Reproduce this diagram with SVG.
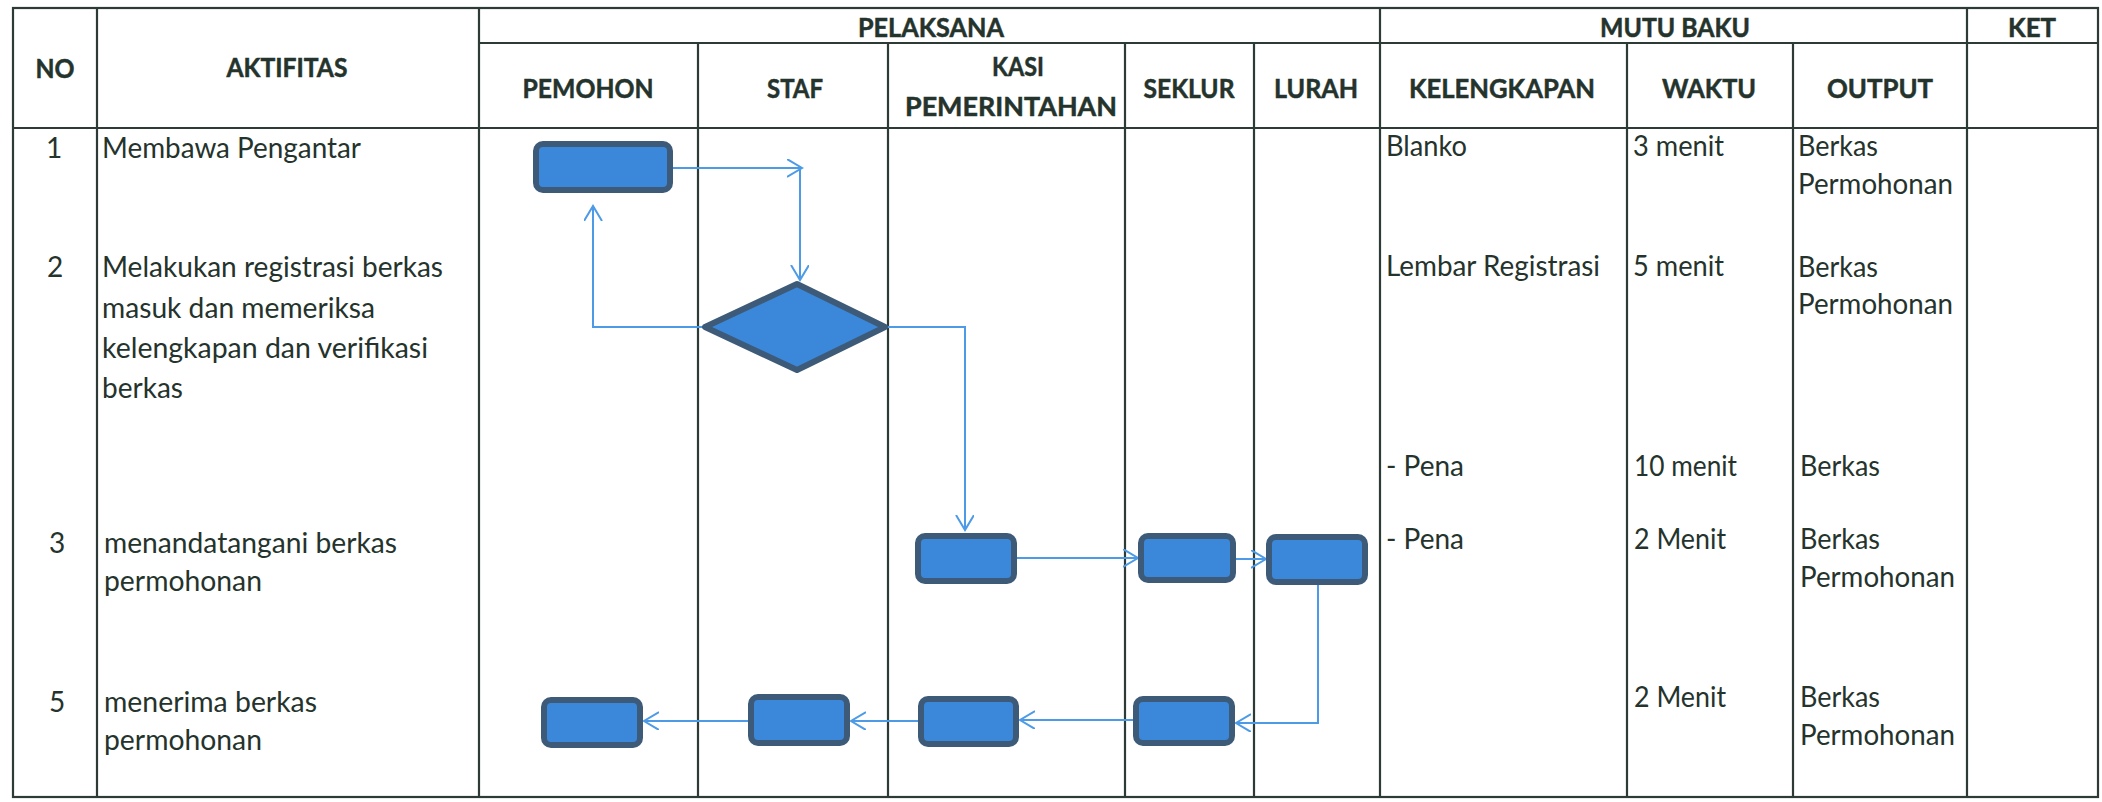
<svg xmlns="http://www.w3.org/2000/svg" width="2102" height="802" viewBox="0 0 2102 802">
<style>
.ln{stroke:#2e3a35;stroke-width:2.2;fill:none}
.h{font-family:Lato,"Liberation Sans",sans-serif;font-weight:bold;font-size:27px;fill:#25332d;stroke:#25332d;stroke-width:0.5;text-anchor:middle}
.t{font-family:Lato,"Liberation Sans",sans-serif;font-size:28px;fill:#25332d}
.c{text-anchor:middle}
.box{fill:#3b88da;stroke:#3d5b78;stroke-width:6}
.cn{stroke:#4d9be6;stroke-width:2;fill:none;marker-end:url(#ah)}
</style>
<defs>
<marker id="ah" markerUnits="userSpaceOnUse" markerWidth="20" markerHeight="20" refX="15" refY="9" orient="auto">
<path d="M0,0 L15,9 L0,18" fill="none" stroke="#4d9be6" stroke-width="2"/>
</marker>
</defs>
<rect width="2102" height="802" fill="#ffffff"/>
<g id="table">
<rect class="ln" x="13" y="8" width="2085" height="789"/>
<line class="ln" x1="479" y1="43" x2="2098" y2="43"/>
<line class="ln" x1="13" y1="128" x2="2098" y2="128"/>
<line class="ln" x1="97" y1="8" x2="97" y2="797"/>
<line class="ln" x1="479" y1="8" x2="479" y2="797"/>
<line class="ln" x1="698" y1="43" x2="698" y2="797"/>
<line class="ln" x1="888" y1="43" x2="888" y2="797"/>
<line class="ln" x1="1125" y1="43" x2="1125" y2="797"/>
<line class="ln" x1="1254" y1="43" x2="1254" y2="797"/>
<line class="ln" x1="1380" y1="8" x2="1380" y2="797"/>
<line class="ln" x1="1627" y1="43" x2="1627" y2="797"/>
<line class="ln" x1="1793" y1="43" x2="1793" y2="797"/>
<line class="ln" x1="1967" y1="8" x2="1967" y2="797"/>
</g>
<g id="headers">
<text class="h" x="55" y="78" textLength="39" lengthAdjust="spacingAndGlyphs">NO</text>
<text class="h" x="287" y="77" textLength="121" lengthAdjust="spacingAndGlyphs">AKTIFITAS</text>
<text class="h" x="931" y="37" textLength="146" lengthAdjust="spacingAndGlyphs">PELAKSANA</text>
<text class="h" x="1675" y="37" textLength="150" lengthAdjust="spacingAndGlyphs">MUTU BAKU</text>
<text class="h" x="2032" y="37" textLength="48" lengthAdjust="spacingAndGlyphs">KET</text>
<text class="h" x="588" y="98" textLength="131" lengthAdjust="spacingAndGlyphs">PEMOHON</text>
<text class="h" x="795" y="98" textLength="56" lengthAdjust="spacingAndGlyphs">STAF</text>
<text class="h" x="1018" y="76" textLength="52" lengthAdjust="spacingAndGlyphs">KASI</text>
<text class="h" x="1011" y="116" textLength="212" lengthAdjust="spacingAndGlyphs">PEMERINTAHAN</text>
<text class="h" x="1189" y="98" textLength="91" lengthAdjust="spacingAndGlyphs">SEKLUR</text>
<text class="h" x="1316" y="98" textLength="84" lengthAdjust="spacingAndGlyphs">LURAH</text>
<text class="h" x="1502" y="98" textLength="186" lengthAdjust="spacingAndGlyphs">KELENGKAPAN</text>
<text class="h" x="1709" y="98" textLength="94" lengthAdjust="spacingAndGlyphs">WAKTU</text>
<text class="h" x="1880" y="98" textLength="106" lengthAdjust="spacingAndGlyphs">OUTPUT</text>
</g>
<g id="rows">
<text class="t c" x="54" y="158">1</text>
<text class="t" x="102" y="158" textLength="259" lengthAdjust="spacingAndGlyphs">Membawa Pengantar</text>
<text class="t c" x="55" y="277">2</text>
<text class="t" x="102" y="277" textLength="341" lengthAdjust="spacingAndGlyphs">Melakukan registrasi berkas</text>
<text class="t" x="102" y="318" textLength="273" lengthAdjust="spacingAndGlyphs">masuk dan memeriksa</text>
<text class="t" x="102" y="358" textLength="326" lengthAdjust="spacingAndGlyphs">kelengkapan dan verifikasi</text>
<text class="t" x="102" y="398" textLength="81" lengthAdjust="spacingAndGlyphs">berkas</text>
<text class="t c" x="57" y="553">3</text>
<text class="t" x="104" y="553" textLength="293" lengthAdjust="spacingAndGlyphs">menandatangani berkas</text>
<text class="t" x="104" y="591" textLength="158" lengthAdjust="spacingAndGlyphs">permohonan</text>
<text class="t c" x="57" y="712">5</text>
<text class="t" x="104" y="712" textLength="213" lengthAdjust="spacingAndGlyphs">menerima berkas</text>
<text class="t" x="104" y="750" textLength="158" lengthAdjust="spacingAndGlyphs">permohonan</text>
<text class="t" x="1386" y="156" textLength="81" lengthAdjust="spacingAndGlyphs">Blanko</text>
<text class="t" x="1386" y="276" textLength="214" lengthAdjust="spacingAndGlyphs">Lembar Registrasi</text>
<text class="t" x="1386" y="476" textLength="78" lengthAdjust="spacingAndGlyphs">- Pena</text>
<text class="t" x="1386" y="549" textLength="78" lengthAdjust="spacingAndGlyphs">- Pena</text>
<text class="t" x="1633" y="156" textLength="91" lengthAdjust="spacingAndGlyphs">3 menit</text>
<text class="t" x="1633" y="276" textLength="91" lengthAdjust="spacingAndGlyphs">5 menit</text>
<text class="t" x="1634" y="476" textLength="103" lengthAdjust="spacingAndGlyphs">10 menit</text>
<text class="t" x="1634" y="549" textLength="92" lengthAdjust="spacingAndGlyphs">2 Menit</text>
<text class="t" x="1634" y="707" textLength="92" lengthAdjust="spacingAndGlyphs">2 Menit</text>
<text class="t" x="1798" y="156" textLength="80" lengthAdjust="spacingAndGlyphs">Berkas</text>
<text class="t" x="1798" y="194" textLength="155" lengthAdjust="spacingAndGlyphs">Permohonan</text>
<text class="t" x="1798" y="277" textLength="80" lengthAdjust="spacingAndGlyphs">Berkas</text>
<text class="t" x="1798" y="314" textLength="155" lengthAdjust="spacingAndGlyphs">Permohonan</text>
<text class="t" x="1800" y="476" textLength="80" lengthAdjust="spacingAndGlyphs">Berkas</text>
<text class="t" x="1800" y="549" textLength="80" lengthAdjust="spacingAndGlyphs">Berkas</text>
<text class="t" x="1800" y="587" textLength="155" lengthAdjust="spacingAndGlyphs">Permohonan</text>
<text class="t" x="1800" y="707" textLength="80" lengthAdjust="spacingAndGlyphs">Berkas</text>
<text class="t" x="1800" y="745" textLength="155" lengthAdjust="spacingAndGlyphs">Permohonan</text>
</g>
<g id="connectors">
<path class="cn" d="M673,168 L802,168"/>
<path class="cn" d="M800,168 L800,280"/>
<path class="cn" d="M704,327 L593,327 L593,206"/>
<path class="cn" d="M887,327 L965,327 L965,530"/>
<path class="cn" d="M1017,558 L1138,558"/>
<path class="cn" d="M1236,559 L1266,559"/>
<path class="cn" d="M1318,585 L1318,723 L1236,723"/>
<path class="cn" d="M1133,720 L1020,720"/>
<path class="cn" d="M918,721 L851,721"/>
<path class="cn" d="M748,721 L644,721"/>
</g>
<g id="n-pemohon-1"><rect class="box" x="536" y="144" width="134" height="46" rx="7"/></g>
<g id="n-staf-decision"><polygon class="box" points="705,327 797,284 885,327 797,370" stroke-linejoin="round"/></g>
<g id="n-kasi-3"><rect class="box" x="918" y="536" width="96" height="45" rx="7"/></g>
<g id="n-seklur-3"><rect class="box" x="1141" y="536" width="92" height="44" rx="7"/></g>
<g id="n-lurah-3"><rect class="box" x="1269" y="537" width="96" height="45" rx="7"/></g>
<g id="n-seklur-5"><rect class="box" x="1136" y="699" width="96" height="44" rx="7"/></g>
<g id="n-kasi-5"><rect class="box" x="921" y="699" width="95" height="45" rx="7"/></g>
<g id="n-staf-5"><rect class="box" x="751" y="697" width="96" height="46" rx="7"/></g>
<g id="n-pemohon-5"><rect class="box" x="544" y="700" width="96" height="45" rx="7"/></g>
</svg>
